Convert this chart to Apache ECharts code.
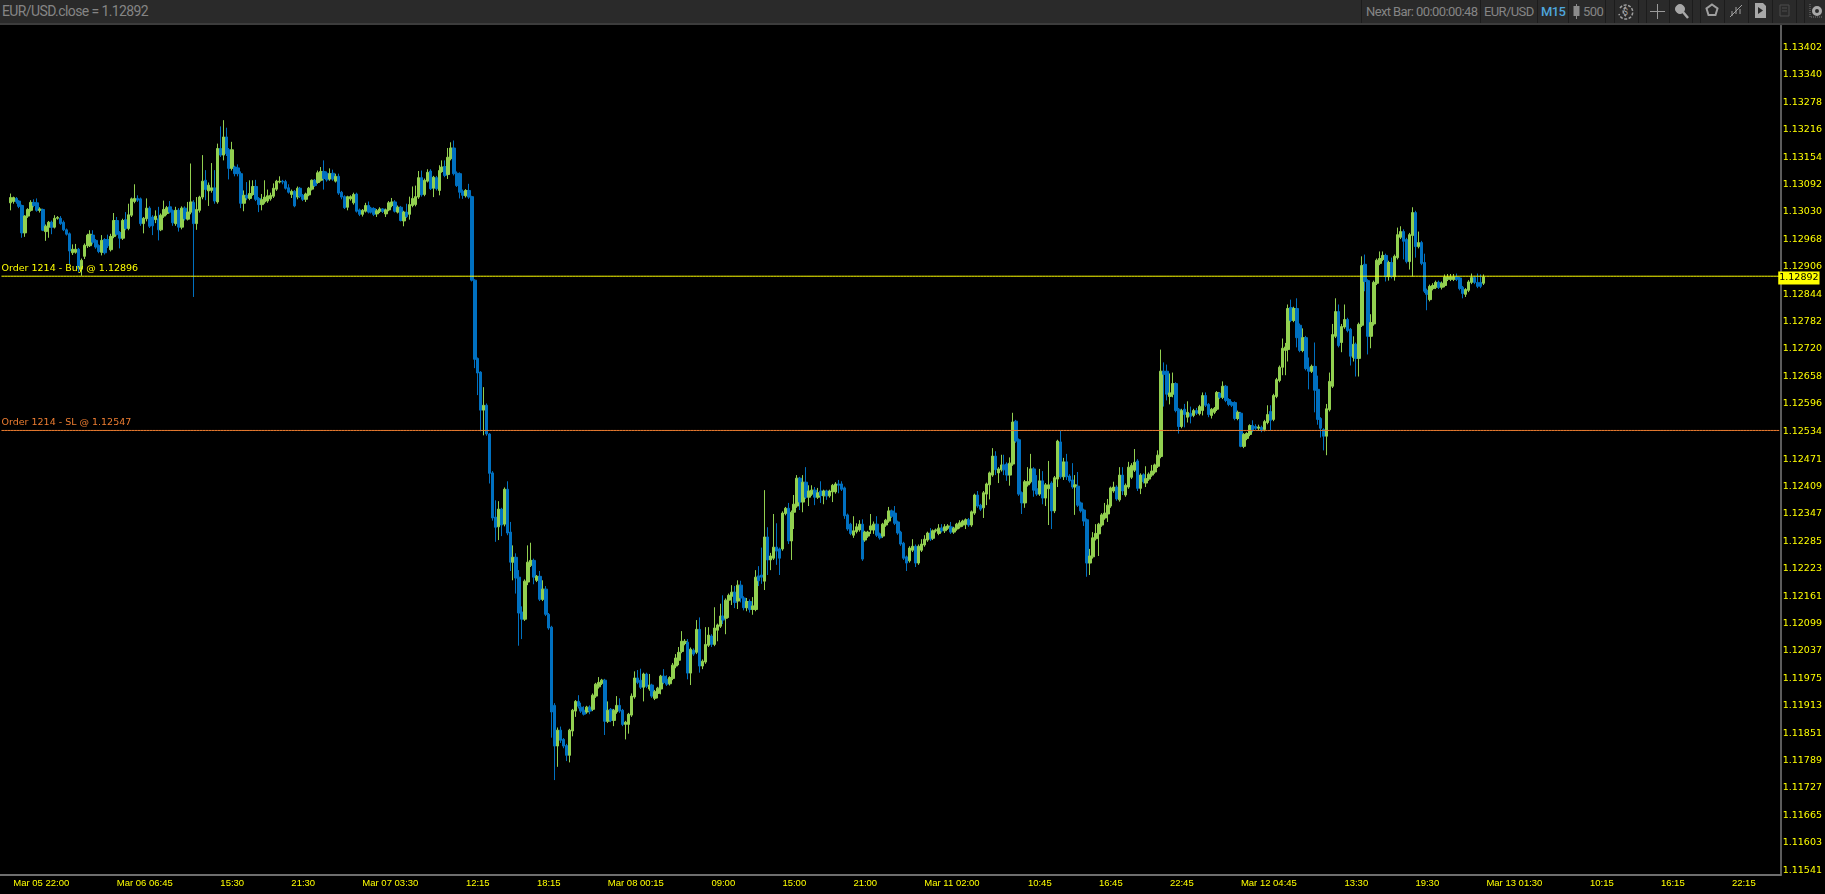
<!DOCTYPE html>
<html>
<head>
<meta charset="utf-8">
<title>EUR/USD M15</title>
<script src="https://cdn.jsdelivr.net/npm/echarts@6/dist/echarts.min.js"></script>
<style>
  html, body { margin: 0; padding: 0; background: #000; overflow: hidden; }
  #toolbar {
    position: absolute; left: 0; top: 0; width: 1825px; height: 23px;
    background: #2a2a2a; border-bottom: 2px solid #3c3c3c;
    font: 13px Roboto, sans-serif; color: #858585; letter-spacing: -0.6px;
  }
  #toolbar span, #toolbar svg { position: absolute; }
  #toolbar span { top: 2px; line-height: 19px; white-space: nowrap; }
  #toolbar i { position: absolute; top: 0; width: 1px; height: 23px; background: #1c1c1c; }
  #chart { position: absolute; left: 0; top: 0; width: 1825px; height: 894px; }
</style>
</head>
<body>
<div id="chart"></div>
<div id="toolbar">
  <span style="left:2px;font-size:14px">EUR/USD.close = 1.12892</span>
  <i style="left:1361px"></i><i style="left:1480px"></i><i style="left:1537px"></i><i style="left:1568px"></i><i style="left:1605px"></i><i style="left:1614px"></i><i style="left:1638px"></i><i style="left:1646px"></i><i style="left:1669px"></i><i style="left:1692px"></i><i style="left:1700px"></i><i style="left:1724px"></i><i style="left:1748px"></i><i style="left:1772px"></i><i style="left:1796px"></i><i style="left:1804px"></i>
  <span style="left:1366px">Next Bar: 00:00:00:48</span>
  <span style="left:1484px">EUR/USD</span>
  <span style="left:1541px;color:#4ea6dc;font-weight:500">M15</span>
  <svg style="left:1572px;top:4px" width="9" height="15"><path d="M4 0h1v2h2.5v10H5v3H4v-3H1.5V2H4z" fill="#8c8c8c"/></svg>
  <span style="left:1583px">500</span>
  <svg style="left:1617px;top:3px" width="18" height="17" fill="none" stroke="#a0a0a0" stroke-width="1.5"><path d="M3 5a7 7 0 1 1-1 6M9 4a5 5 0 0 0 0 9" stroke-dasharray="3 1.5"/><text x="6" y="12" font-size="9" fill="#a0a0a0" stroke="none">$</text></svg>
  <svg style="left:1650px;top:4px" width="15" height="15" stroke="#9a9a9a" stroke-width="1"><path d="M7.5 0v15M0 7.5h15"/></svg>
  <svg style="left:1674px;top:3px" width="15" height="16" fill="#a8a8a8" stroke="#a8a8a8"><circle cx="6" cy="6" r="4.5"/><path d="M9 9l5 6" stroke-width="2.5"/></svg>
  <svg style="left:1705px;top:3px" width="14" height="15" fill="none" stroke="#a0a0a0" stroke-width="2"><path d="M7 1.5l5.5 4-2 6.5h-7l-2-6.5z"/></svg>
  <svg style="left:1729px;top:3px" width="14" height="16" fill="none" stroke="#a0a0a0"><path d="M1 14L13 2M3 8v5M7 4v7M11 6v5"/></svg>
  <svg style="left:1755px;top:3px" width="11" height="15"><path d="M0 0h8l3 3v12H0z" fill="#a8a8a8"/><path d="M3 4l5 3.5-5 3.5z" fill="#2a2a2a"/></svg>
  <svg style="left:1779px;top:4px" width="14" height="14" fill="none" stroke="#4d4d4d"><path d="M1 1h9v11H1zM3 4h5M3 7h5"/></svg>
  <svg style="left:1809px;top:3px" width="15" height="15" fill="none"><circle cx="8" cy="8" r="3.5" stroke="#a8a8a8" stroke-width="3"/><path d="M1 1v13h13" stroke="#777" stroke-dasharray="1 1"/></svg>
</div>
<script>
// rows are [open, close, low, high] in points above 1.10000
var PRICE_BASE = 1.1

var barsMar05 = [
  [3062,3074,3045,3083],[3065,3074,3060,3076],[3072,3064,3060,3075],[3066,3054,3050,3068],[3056,2994,2983,3058],
  [2994,3032,2985,3034],[3032,3047,3028,3050],[3045,3063,3042,3068],[3063,3056,3052,3070],[3062,3045,3042,3072],
  [3045,3048,3040,3052],[3047,3000,2998,3049],[2997,3009,2976,3013],[3007,3018,2983,3021],[3018,3007,2991,3022],
  [3007,3027,3004,3034],[3027,3029,3024,3032],[3027,3015,3012,3032],[3018,3001,2998,3022],[3001,2991,2988,3004],
  [2992,2953,2921,2995],[2949,2957,2944,2968],[2950,2957,2947,2969],[2957,2913,2905,2960],[2912,2932,2897,2936],
  [2941,2966,2935,2970],[2965,2989,2960,2992],[2965,2991,2962,3000],[2989,2973,2968,3000],[2977,2962,2958,2980],
  [2965,2952,2948,2968],[2950,2977,2943,2989],[2979,2949,2945,2982],[2979,2965,2960,2990],[2956,2986,2952,2992],
  [2986,3022,2982,3039],[3022,2991,2988,3030],[2995,2982,2959,2998],[2982,3022,2978,3026],[3024,3004,3000,3041],
  [3004,3035,3000,3060],[3034,3071,3030,3074],[3065,3072,3061,3104],[3072,3068,3064,3079],[3071,3015,3010,3074],
  [3015,3027,2993,3030],[3026,3050,3020,3072],[3050,3009,3005,3054],[3030,3010,2989,3034],[3024,3032,3016,3045],
  [3026,3001,2977,3053],[3001,3034,2998,3038],[3032,3047,3028,3067],[3038,3051,3034,3055],[3053,3041,3038,3066],
  [3044,3017,3010,3047],[3015,3045,3010,3053],[3045,3007,2997,3050],[3007,3050,3002,3054],[3050,3026,3022,3054],
  [3025,3041,3022,3064],[3041,3064,3036,3151],[3063,3015,2849,3068],[3015,3047,3001,3075],[3045,3075,3040,3078],
  [3075,3111,3070,3170],[3113,3092,3068,3136],[3089,3102,3055,3108],[3090,3096,3085,3152],[3096,3066,3060,3136],
  [3064,3185,3060,3196],[3185,3170,3166,3235],[3170,3211,3158,3249],[3211,3173,3168,3232],[3182,3140,3115,3186],
  [3140,3182,3135,3200],[3143,3128,3122,3146]
]
var barsMar06 = [
  [3141,3128,3122,3149],[3128,3061,3050,3133],[3061,3079,3043,3090],[3079,3073,3068,3109],[3072,3083,3068,3113],
  [3081,3099,3078,3113],[3099,3070,3066,3114],[3072,3058,3041,3075],[3058,3069,3045,3082],[3064,3075,3060,3113],
  [3066,3078,3062,3092],[3071,3079,3067,3085],[3077,3095,3073,3106],[3093,3111,3089,3114],[3109,3111,3106,3122],
  [3111,3109,3104,3114],[3110,3095,3092,3114],[3096,3086,3083,3104],[3081,3088,3073,3092],[3088,3055,3052,3091],[3075,3095,3070,3099],
  [3095,3077,3073,3098],[3079,3070,3066,3082],[3070,3082,3064,3085],[3080,3095,3077,3098],[3093,3113,3090,3115],
  [3113,3101,3098,3116],[3108,3130,3105,3135],[3113,3133,3110,3143],[3133,3117,3092,3158],[3129,3114,3110,3133],
  [3116,3128,3112,3140],[3129,3116,3112,3137],[3111,3122,3108,3128],[3122,3084,3080,3128],[3086,3075,3070,3089],
  [3076,3051,3048,3079],[3052,3076,3045,3078],[3071,3076,3067,3079],[3062,3081,3058,3085],[3082,3043,3040,3085],
  [3046,3036,3032,3049],[3036,3045,3031,3048],[3043,3056,3040,3062],[3056,3041,3038,3065],[3050,3041,3038,3053],
  [3049,3036,3032,3052],[3037,3044,3030,3048],[3043,3048,3039,3052],[3048,3043,3039,3050],[3037,3046,3030,3049],[3046,3062,3043,3066],
  [3056,3064,3052,3073],[3064,3043,3040,3068],[3041,3052,3038,3056],[3052,3022,3020,3055],[3021,3041,3009,3044],
  [3041,3031,3028,3060],[3036,3058,3024,3076],[3056,3072,3052,3099],[3058,3076,3054,3101],[3075,3119,3071,3134],
  [3119,3080,3076,3135],[3081,3113,3077,3117],[3111,3131,3108,3138],[3134,3094,3091,3138],[3095,3120,3075,3123],
  [3119,3094,3090,3123],[3090,3135,3079,3147],[3133,3143,3130,3158],[3144,3124,3120,3158],[3126,3165,3116,3186],
  [3162,3186,3158,3199],[3186,3128,3124,3203],[3129,3101,3098,3133],[3128,3086,3072,3131],[3088,3079,3071,3092],
  [3078,3090,3074,3093],[3090,3075,3071,3105]
]
var barsMar07 = [
  [3076,2887,2884,3078],[2887,2708,2688,2889],[2710,2677,2627,2712],[2679,2593,2545,2681],
  [2593,2604,2536,2645],[2604,2539,2535,2608],[2539,2450,2427,2541],
  [2451,2349,2343,2455],[2351,2328,2295,2389],[2329,2369,2299,2387],[2369,2333,2308,2372],[2335,2414,2330,2418],
  [2414,2315,2310,2432],[2317,2249,2229,2340],[2249,2260,2208,2287],[2260,2213,2178,2269],[2215,2134,2060,2231],
  [2136,2120,2075,2149],[2120,2206,2116,2210],[2204,2249,2197,2287],[2242,2253,2238,2293],[2253,2215,2199,2257],
  [2208,2217,2204,2220],[2217,2165,2161,2229],[2165,2188,2161,2208],[2188,2131,2127,2195],[2131,2100,2096,2134],
  [2102,1910,1852,2105],[1925,1833,1756,1930],[1833,1869,1786,1875],[1869,1846,1840,1877],[1848,1833,1828,1851],
  [1834,1812,1799,1838],[1812,1869,1796,1872],[1867,1914,1855,1917],[1912,1934,1899,1937],[1934,1923,1918,1948],
  [1921,1912,1908,1931],[1914,1905,1902,1923],[1910,1921,1906,1924],[1921,1912,1905,1925],[1916,1948,1912,1952],
  [1946,1973,1942,1976],[1967,1977,1963,1989],[1975,1982,1971,1985],[1982,1889,1858,1985],[1889,1914,1885,1934],
  [1916,1891,1887,1919],[1891,1914,1878,1917],[1910,1925,1906,1946],[1925,1912,1908,1941],[1914,1882,1878,1917],
  [1882,1887,1848,1890],[1882,1905,1861,1908],[1903,1946,1899,1952],[1944,1987,1940,2002],[1987,1977,1973,2005],
  [1982,1966,1962,2008],[1966,1996,1934,1999],[1996,1968,1964,1999],[1962,1971,1958,1996],[1971,1946,1942,1974],
  [1941,1956,1937,1960],[1952,1964,1941,1967],[1962,1991,1950,1994],[1991,1977,1973,2007],[1984,1973,1969,1993],
  [1974,1988,1970,1991],[1986,2016,1982,2021],[2014,2032,2009,2041],[2027,2045,2016,2057],[2047,2070,2043,2093],
  [2065,2070,2061,2075],[2068,1998,1984,2075],[1998,2052,1971,2056],[2050,2041,2037,2054],[2045,2097,2041,2118],
  [2097,2014,1999,2124],[2014,2025,2007,2029],[2023,2063,2019,2102],[2061,2084,2057,2102],[2082,2063,2057,2086],
  [2063,2100,2059,2147],[2095,2107,2070,2110],[2104,2127,2100,2155],[2127,2118,2109,2174],[2122,2163,2086,2167],
  [2163,2174,2123,2178],[2172,2181,2152,2197],[2181,2158,2145,2195],[2161,2197,2143,2208]
]
var barsMar08 = [
  [2197,2168,2158,2207],[2168,2146,2140,2172],[2146,2160,2138,2168],[2160,2142,2135,2165],[2142,2150,2130,2170],[2142,2215,2138,2231],
  [2218,2207,2195,2240],[2220,2215,2200,2282],[2206,2306,2186,2412],[2306,2254,2220,2328],[2254,2263,2231,2270],
  [2258,2283,2254,2358],[2283,2274,2243,2337],[2279,2258,2220,2282],[2279,2360,2275,2364],[2359,2371,2355,2374],
  [2371,2297,2290,2383],[2297,2362,2254,2366],[2362,2380,2324,2401],[2376,2439,2372,2446],[2439,2385,2367,2442],
  [2385,2430,2362,2446],[2430,2396,2392,2464],[2396,2410,2376,2423],[2403,2412,2399,2423],[2412,2396,2378,2419],
  [2396,2406,2392,2417],[2410,2400,2383,2432],[2399,2410,2380,2413],[2410,2399,2390,2413],[2399,2410,2395,2413],
  [2408,2423,2385,2426],[2408,2426,2404,2430],[2426,2423,2405,2435],[2426,2414,2410,2432],[2417,2354,2347,2420],
  [2356,2324,2320,2359],[2335,2314,2310,2338],[2310,2320,2304,2353],[2318,2329,2314,2337],[2322,2335,2318,2344],
  [2335,2256,2252,2346],[2299,2317,2295,2320],[2308,2317,2304,2320],[2322,2331,2313,2358],[2322,2335,2313,2341],
  [2335,2310,2306,2353],[2313,2304,2300,2316],[2308,2335,2304,2338],[2333,2344,2329,2347],[2342,2365,2338,2374],
  [2365,2353,2349,2368],[2360,2337,2333,2376],[2340,2315,2311,2343],[2317,2290,2286,2320],[2292,2258,2254,2295],
  [2261,2247,2229,2264],[2252,2281,2248,2285],[2276,2285,2272,2301],[2285,2247,2238,2289],[2247,2285,2243,2289],
  [2276,2290,2272,2301],[2288,2301,2284,2310],[2299,2315,2295,2318],[2315,2301,2297,2326]
]
var barsMar11 = [
  [2303,2320,2299,2323],[2320,2322,2316,2325],[2314,2326,2310,2335],[2326,2320,2316,2335],[2320,2329,2315,2335],
  [2326,2331,2322,2335],[2329,2317,2313,2340],[2317,2326,2313,2329],[2324,2335,2320,2338],[2329,2338,2325,2344],
  [2333,2342,2329,2345],[2335,2345,2324,2348],[2345,2333,2329,2349],[2333,2363,2329,2366],[2360,2401,2356,2404],
  [2401,2376,2372,2410],[2378,2369,2365,2381],[2372,2406,2349,2410],[2403,2426,2378,2429],[2424,2451,2391,2454],
  [2446,2489,2442,2507],[2489,2458,2446,2500],[2451,2460,2428,2464],[2458,2469,2454,2492],[2469,2458,2446,2492],
  [2471,2446,2433,2475],[2446,2473,2422,2486],[2471,2566,2467,2587],[2568,2523,2519,2571],[2526,2403,2399,2529],
  [2406,2383,2358,2409],[2383,2431,2372,2435],[2424,2431,2420,2464],[2431,2460,2427,2494],[2460,2412,2397,2464],
  [2415,2403,2399,2446],[2403,2433,2399,2460],[2433,2394,2380,2455],[2394,2424,2376,2428],[2415,2424,2333,2478],
  [2428,2365,2324,2432],[2365,2440,2360,2444],[2437,2523,2419,2526],[2521,2442,2438,2546],[2442,2476,2435,2485],
  [2476,2442,2435,2494],[2444,2433,2429,2448],[2435,2419,2415,2473],[2419,2424,2356,2446],[2421,2378,2374,2453],
  [2383,2365,2361,2386],[2367,2342,2331,2370],[2345,2247,2216,2348],[2247,2263,2220,2279],[2261,2304,2257,2317],
  [2302,2314,2298,2335],[2313,2335,2263,2338],[2333,2356,2329,2360],[2349,2360,2345,2383],[2358,2378,2340,2392],
  [2376,2417,2372,2420],[2410,2419,2406,2431],[2419,2392,2388,2423],[2390,2446,2386,2464],[2446,2410,2401,2464],
  [2401,2423,2397,2427],[2419,2464,2415,2476],[2441,2468,2437,2473],[2457,2475,2453,2505],[2478,2416,2410,2482],
  [2416,2446,2403,2450],[2447,2431,2427,2450],[2428,2438,2419,2466],[2437,2448,2433,2452],[2446,2455,2442,2469],
  [2453,2469,2449,2472],[2466,2491,2462,2502]
]
var barsMar12 = [
  [2488,2681,2484,2730],[2681,2674,2601,2701],[2681,2629,2615,2696],[2624,2632,2606,2676],[2629,2653,2622,2678],
  [2653,2592,2588,2656],[2595,2556,2540,2598],[2556,2592,2552,2596],[2595,2583,2554,2607],[2577,2588,2565,2613],
  [2586,2579,2563,2601],[2581,2592,2577,2596],[2592,2586,2582,2598],[2585,2601,2581,2605],[2592,2626,2581,2633],
  [2626,2604,2600,2633],[2606,2583,2577,2609],[2581,2595,2574,2598],[2588,2597,2584,2600],[2595,2633,2591,2636],
  [2631,2622,2618,2634],[2622,2647,2618,2658],[2647,2615,2611,2650],[2617,2606,2602,2620],[2610,2604,2600,2613],
  [2610,2574,2570,2613],[2574,2588,2570,2592],[2586,2511,2509,2589],[2511,2538,2507,2541],[2529,2540,2525,2543],
  [2538,2558,2534,2561],[2558,2547,2543,2570],[2556,2552,2548,2561],[2552,2555,2546,2560],[2554,2547,2543,2558],[2549,2567,2545,2571],
  [2565,2583,2561,2604],[2590,2570,2547,2604],[2572,2626,2568,2630],[2624,2662,2620,2666],[2660,2690,2656,2694],
  [2690,2733,2672,2755],[2728,2736,2672,2745],[2730,2823,2703,2832],[2825,2796,2792,2843],[2796,2823,2792,2827],
  [2823,2757,2735,2846],[2785,2728,2724,2789],[2728,2757,2724,2778],[2757,2687,2683,2761],[2690,2681,2640,2712],
  [2681,2692,2677,2696],[2692,2638,2588,2746],[2640,2572,2560,2671],[2574,2552,2531,2577],[2549,2534,2502,2552],
  [2534,2596,2491,2607],[2594,2658,2590,2678],[2647,2764,2643,2788],[2760,2816,2756,2846],[2816,2739,2735,2832],
  [2746,2782,2724,2788],[2781,2798,2777,2832],[2798,2773,2769,2802],[2776,2715,2694,2779],[2712,2742,2703,2760],
  [2742,2710,2669,2746],[2710,2787,2669,2791],[2785,2920,2781,2941],[2923,2884,2862,2945],[2886,2760,2719,2889],
  [2760,2791,2733,2810],[2788,2882,2784,2886],[2880,2932,2876,2936],[2925,2936,2921,2952],[2934,2943,2930,2952],
  [2943,2895,2884,2947],[2895,2927,2886,2931],[2927,2895,2891,2938],[2895,2941,2886,2945],[2938,2990,2934,3006],
  [2984,2997,2980,3009],[2997,2975,2934,3002],[2979,2929,2925,2983],[2929,2990,2911,2994],[2988,3040,2895,3052],
  [3040,2963,2938,3044],[2963,2972,2959,2997],[2972,2925,2921,2976],[2927,2862,2858,2947],[2864,2855,2819,2868],
  [2843,2873,2839,2877],[2868,2875,2864,2880],[2871,2882,2867,2886],[2882,2871,2867,2886],[2871,2880,2866,2884],[2875,2894,2871,2900],
  [2889,2894,2885,2901],[2889,2894,2885,2901],[2889,2894,2885,2901],[2894,2889,2885,2902],[2892,2868,2864,2895],
  [2871,2857,2846,2874],[2855,2866,2849,2869],[2864,2883,2860,2887],[2882,2893,2878,2902],[2893,2882,2878,2897],
  [2882,2873,2869,2902],[2882,2873,2869,2900],[2880,2894,2876,2900]
]

var priceTicks = [1.13402, 1.13340, 1.13278, 1.13216, 1.13154, 1.13092, 1.13030, 1.12968, 1.12906, 1.12844,
  1.12782, 1.12720, 1.12658, 1.12596, 1.12534, 1.12471, 1.12409, 1.12347, 1.12285, 1.12223, 1.12161, 1.12099,
  1.12037, 1.11975, 1.11913, 1.11851, 1.11789, 1.11727, 1.11665, 1.11603, 1.11541]
var timeTickIndex = [4, 39, 74, 98, 122, 157, 181, 205, 240, 264, 288, 312, 347, 371, 395, 419, 454, 478, 502, 537, 561, 585]
var timeTickLabels = ['Mar 05 22:00', 'Mar 06 06:45', '15:30', '21:30', 'Mar 07 03:30', '12:15', '18:15', 'Mar 08 00:15',
  '09:00', '15:00', '21:00', 'Mar 11 02:00', '10:45', '16:45', '22:45', 'Mar 12 04:45', '13:30', '19:30', 'Mar 13 01:30',
  '10:15', '16:15', '22:15']
var buyPrice = 1.12896
var stopPrice = 1.12547
var lastClose = 1.12892
var EMPTY_LEADING = 3
var SLOT_COUNT = 602

var UP = '#92d050'
var DOWN = '#0070c0'
var FONT_AXIS = 'DejaVu Sans'

var allBars = barsMar05.concat(barsMar06, barsMar07, barsMar08, barsMar11, barsMar12)
var categories = []
var candleData = []
for (var i = 0; i < SLOT_COUNT; i++) {
  var at = timeTickIndex.indexOf(i)
  categories.push(at >= 0 ? timeTickLabels[at] : String(i))
  var row = allBars[i - EMPTY_LEADING]
  candleData.push(row ? row.map(function(p) { return +(PRICE_BASE + p / 100000).toFixed(5) }) : '-')
}

// horizontal price level across the whole axis, with one label on one end
function levelSeries(price, color, labelAt, label, visible) {
  var data = []
  for (var k = 0; k < SLOT_COUNT; k++) {
    data.push(k === labelAt ? { value: price, label: label } : price)
  }
  return {
    type: 'line',
    data: data,
    silent: true,
    z: 5,
    symbol: 'circle',
    symbolSize: 0,
    showSymbol: true,
    showAllSymbol: true,
    lineStyle: { color: color, width: 1, opacity: visible ? 1 : 0 },
    itemStyle: { opacity: 0 }
  }
}

function orderLabel(text, color) {
  return {
    show: true, position: 'top', align: 'left', distance: 3, opacity: 1,
    formatter: text, color: color, fontFamily: FONT_AXIS, fontSize: 9.5
  }
}

var chart = echarts.init(document.getElementById('chart'), null, { renderer: 'canvas' })
chart.setOption({
  animation: false,
  backgroundColor: '#000',
  grid: { left: -1, top: 25.6, width: 1783, height: 849.5, containLabel: false },
  xAxis: {
    type: 'category',
    data: categories,
    boundaryGap: true,
    axisLine: { lineStyle: { color: '#6e6e6e', width: 2 } },
    axisTick: { customValues: timeTickIndex, alignWithLabel: true, length: 13, lineStyle: { color: '#8a8a8a', width: 1 } },
    axisLabel: {
      customValues: timeTickIndex,
      color: '#ffff00', fontFamily: 'Liberation Sans', fontSize: 9.5,
      align: 'left', margin: 3,
      formatter: function(v) { return v }
    },
    splitLine: { show: false }
  },
  yAxis: {
    type: 'value',
    position: 'right',
    min: 1.11541,
    max: 1.13463,
    scale: true,
    axisLine: { show: true, lineStyle: { color: '#5c5c5c', width: 2 } },
    axisTick: { customValues: priceTicks, length: 9, lineStyle: { color: '#5c5c5c', width: 1 } },
    axisLabel: {
      customValues: priceTicks,
      color: '#ffff00', fontFamily: FONT_AXIS, fontSize: 9.5,
      margin: 2, align: 'left', verticalAlign: 'bottom',
      formatter: function(v) { return v.toFixed(5) }
    },
    splitLine: { show: false }
  },
  series: [
    {
      type: 'candlestick',
      data: candleData,
      large: false,
      barWidth: 3,
      itemStyle: { color: UP, color0: DOWN, borderColor: UP, borderColor0: DOWN, borderWidth: 1 }
    },
    levelSeries(buyPrice, '#ffff00', 0, orderLabel('Order 1214 - Buy @ 1.12896', '#ffff00'), true),
    levelSeries(stopPrice, '#ed7d31', 0, orderLabel('Order 1214 - SL @ 1.12547', '#ed7d31'), true),
    levelSeries(lastClose, '#ffff00', SLOT_COUNT - 1, {
      show: true, position: 'right', distance: -1, opacity: 1,
      formatter: '1.12892', color: '#000', backgroundColor: '#ffff00', padding: [2, 1, 1, 1],
      fontFamily: FONT_AXIS, fontSize: 9.5
    }, false)
  ]
})
</script>
</body>
</html>
